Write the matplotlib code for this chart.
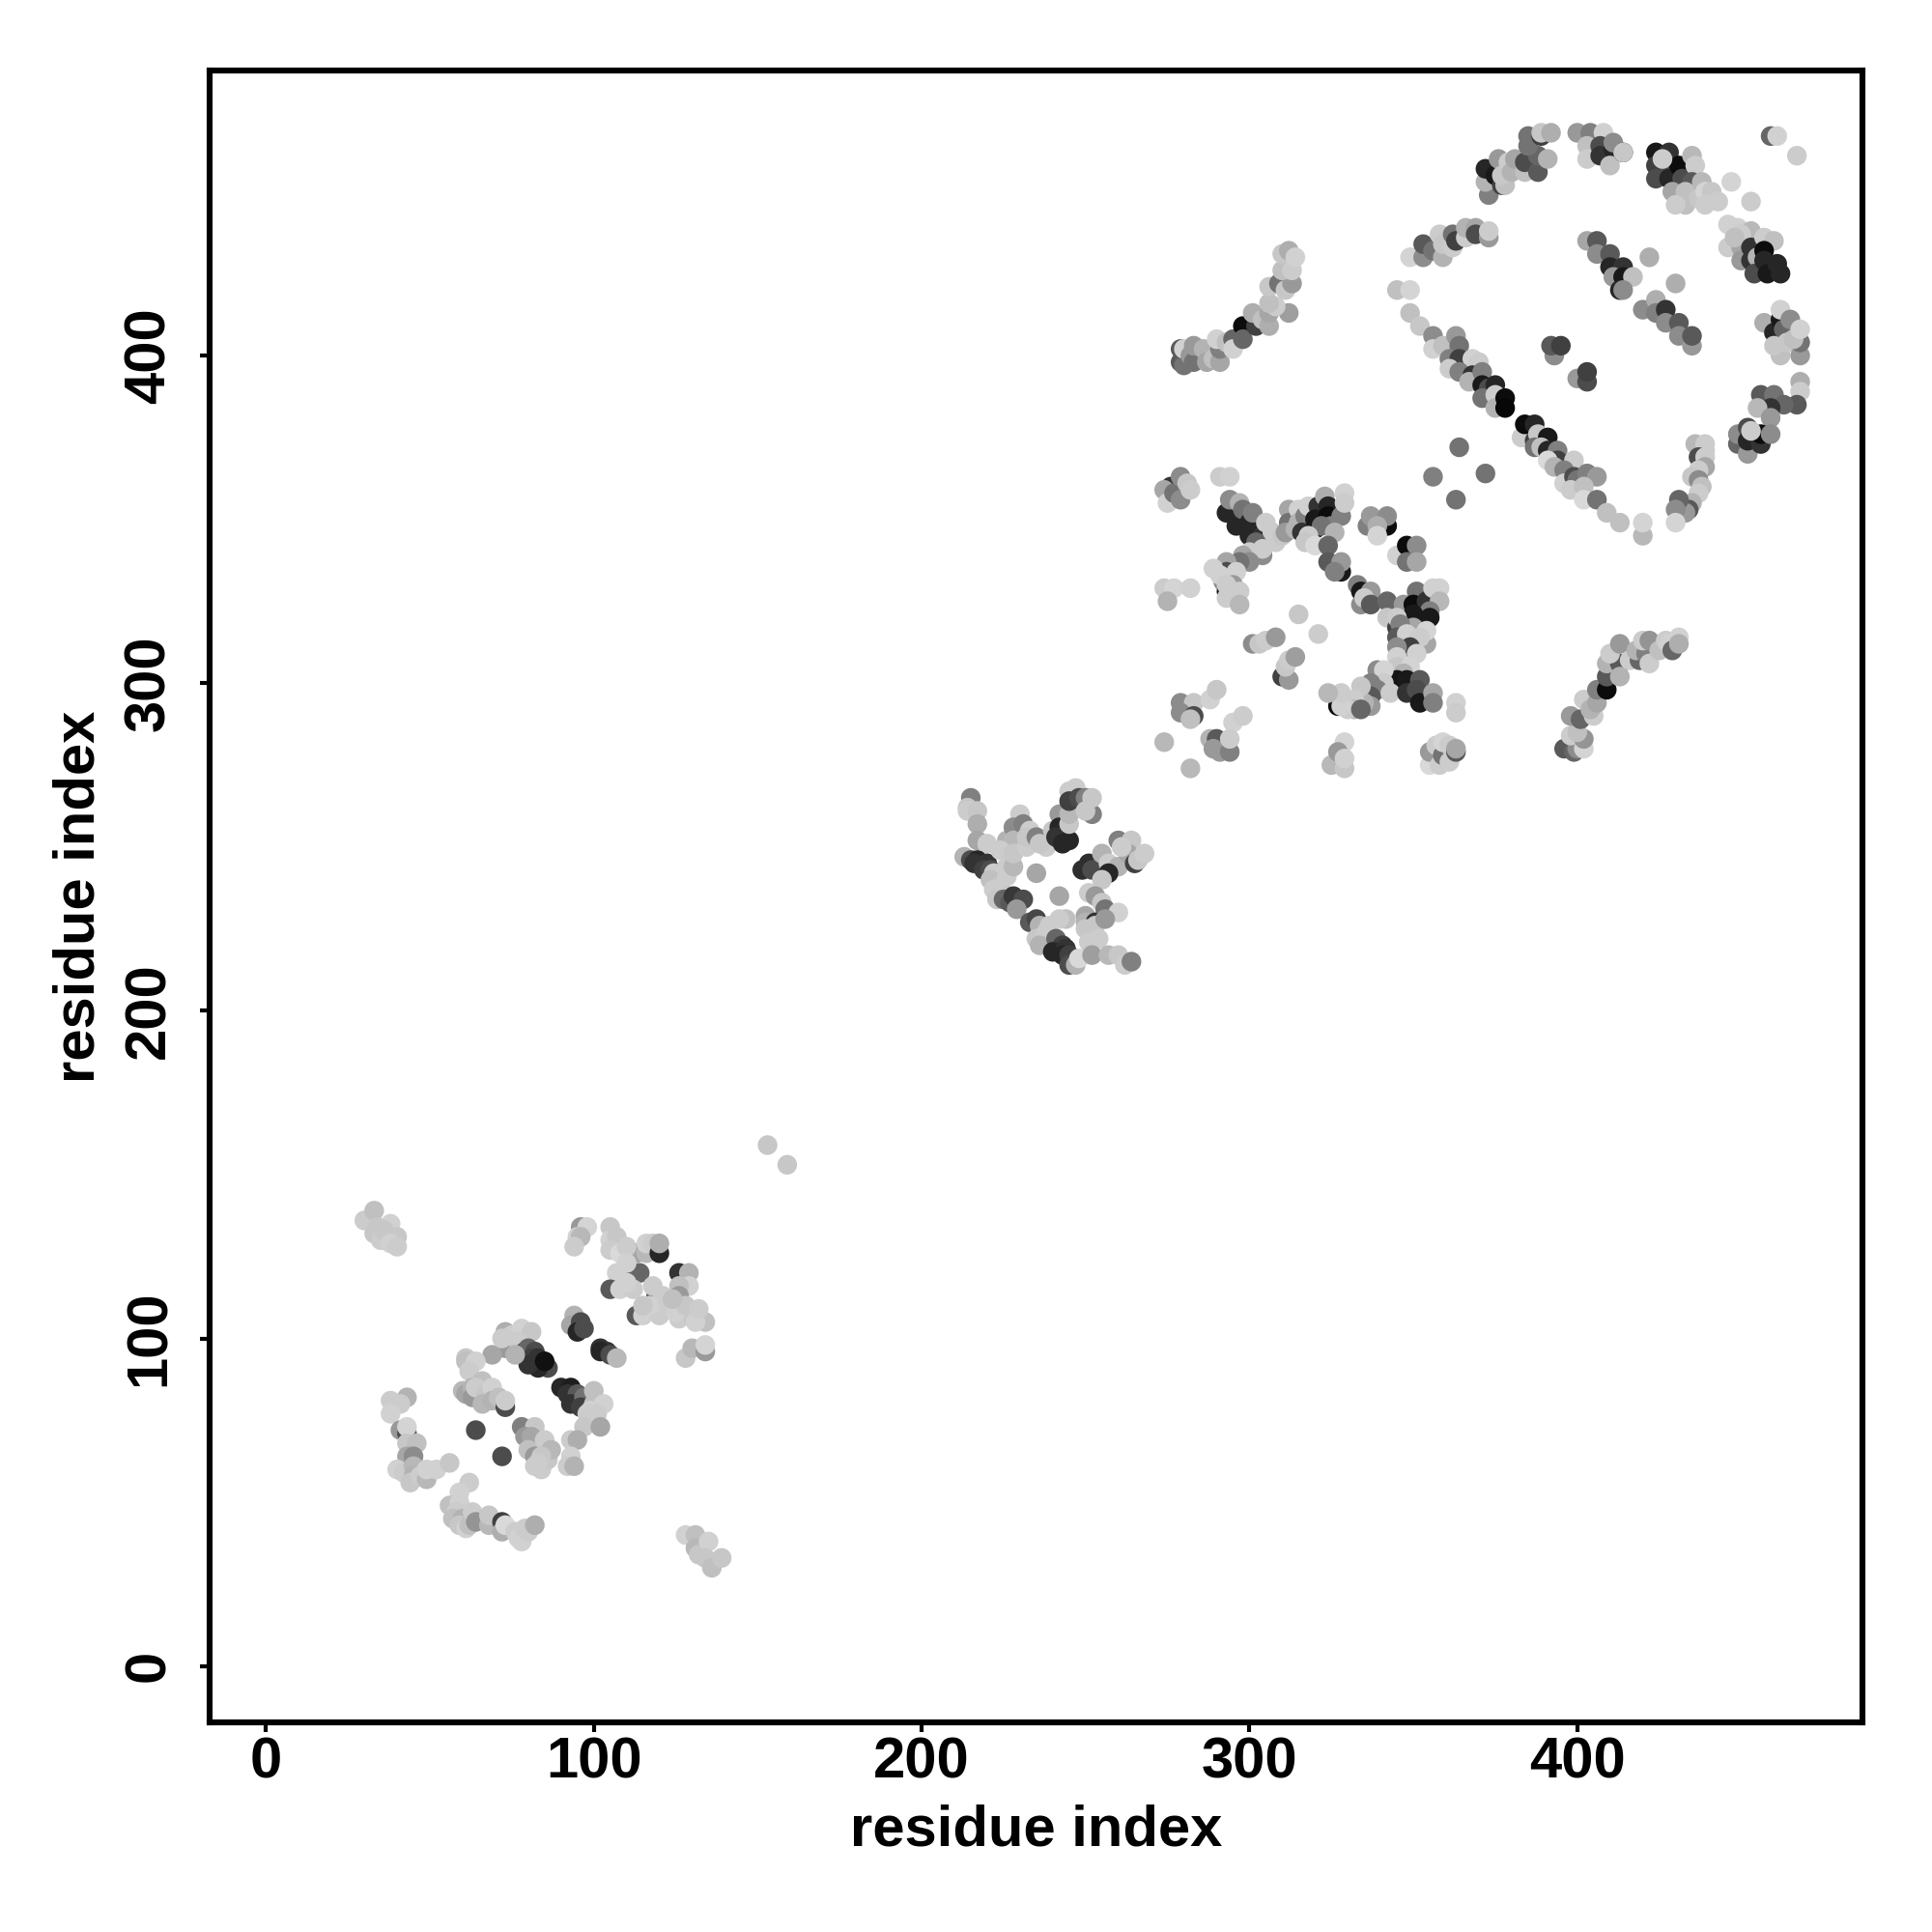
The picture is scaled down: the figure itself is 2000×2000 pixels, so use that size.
import matplotlib
matplotlib.use("Agg")
import matplotlib.pyplot as plt
import numpy as np

# contacts, per cluster: (residue i, residue j, grey level)
low_helix = [(30,136,.8),(33,139,.75),(34,134,.78),(33,132,.78),(38,135,.82),(35,130,.8),(36,133,.78),(40,131,.78),(38,129,.82),(40,128,.8),
    (96,134,.6),(98,134,.83),(95,131,.82),(96,131,.72),(94,128,.8),
    (153,159,.78),(159,153,.78)]

low_upper = [(105,134,.78),(105,130,.82),(107,131,.78),(105,127,.8),(108,126,.85),(113,126,.65),(116,126,.72),(116,129,.82),(118,129,.8),(120,126,.15),(120,129,.68),
    (112,120,.3),(114,120,.4),(107,120,.82),(126,120,.2),(129,120,.7),(129,116,.82),(126,116,.75),
    (105,115,.35),(108,115,.82),(119,113,.35),(121,113,.8),(126,113,.6),(113,107,.35),(115,107,.82),(120,107,.8),(126,106,.8),(130,107,.78),(134,105,.75),(131,105,.82),(122,110,.8),
    (128,94,.78),(130,97,.72),(134,96,.6),(134,98,.83),
    (110,128,.8),(110,123,.82),(112,115,.8),(118,116,.8),(123,109,.8),(125,108,.82),(128,110,.78),(124,112,.75),(117,110,.82),(132,109,.8),(115,110,.78),(110,117,.82)]

low_diag = [(94,107,.7),(93,104,.65),(96,105,.3),(95,102,.15),(97,103,.3),
    (102,97,.2),(104,96,.2),(102,96,.15),(105,95,.3),(107,94,.72),
    (73,102,.68),(73,97,.6),(69,95,.65),(75,101,.8),(78,103,.82),(81,102,.78),(77,99,.8),
    (79,96,.3),(80,97,.4),(82,96,.3),(81,94,.25),(86,91,.3),(83,91,.15),(80,92,.2),(83,94,.2),(85,93,.07),
    (61,94,.78),(61,93,.75),(64,93,.82),(62,90,.8),(76,95,.7),(72,100,.8),
    (60,84,.72),(61,83,.65),(63,85,.7),(63,82,.6),(66,87,.75),(64,85,.8),(67,83,.78),(66,80,.72),(69,85,.82),(69,81,.7),(71,82,.75),(73,79,.3),(73,81,.8),
    (90,85,.15),(93,85,.12),(92,83,.2),(95,83,.35),(93,80,.2),(97,82,.45),(96,79,.25),(100,84,.75),(100,80,.75),(103,80,.82),(99,78,.82),(101,77,.8),(98,77,.8),(97,73,.78),(102,73,.65),(93,69,.8),(95,69,.68),
    (64,72,.3),(72,64,.3)]

low_lower = [(78,73,.5),(82,73,.78),(79,70,.6),(81,70,.65),(80,66,.75),(85,69,.8),(82,64,.6),(82,61,.8),(84,60,.8),(86,63,.78),(87,66,.72),(84,64,.78),(83,62,.8),(93,64,.82),(92,61,.8),(94,61,.7),
    (38,81,.8),(43,82,.7),(41,80,.8),(38,77,.82),(41,72,.6),(43,71,.3),(43,73,.83),(43,68,.78),(46,68,.75),(43,64,.65),(45,64,.55),(40,60,.82),(42,59,.8),(45,61,.72),(45,58,.7),(44,56,.78),(47,58,.8),(49,57,.72),(49,60,.82),(52,60,.82),(56,62,.78),
    (62,56,.8),(59,53,.82),(56,49,.75),(59,50,.82),(58,47,.8),(57,45,.75),(60,45,.7),(59,43,.78),(61,42,.82),(62,43,.75),(63,47,.8),(64,44,.58),(68,43,.72),(68,46,.78),(72,44,.25),(72,41,.68),(73,43,.85),(76,41,.8),(77,39,.82),(78,38,.82),(79,42,.8),(80,41,.8),(82,43,.68),
    (128,40,.82),(131,40,.75),(131,36,.72),(132,34,.78),(135,38,.82),(134,33,.78),(136,30,.75),(139,33,.78)]

mid_domain = [(215,265,.5),(214,262,.78),(214,261,.8),(217,261,.78),(217,257,.68),(217,252,.65),(220,251,.8),
    (213,247,.7),(215,246,.3),(217,246,.15),(216,245,.2),(220,245,.2),(219,243,.25),(221,243,.3),(222,242,.8),(221,240,.75),(224,238,.78),(222,237,.8),(223,234,.78),(225,234,.4),(227,233,.35),(228,235,.22),(226,244,.8),(226,241,.8),(228,244,.72),
    (230,260,.8),(226,252,.7),(228,256,.55),(229,251,.65),(228,252,.72),(224,249,.8),(228,248,.78),(232,250,.8),(231,257,.5),(233,255,.8),(232,253,.78),(235,253,.5),(238,250,.8),(236,251,.78),
    (235,242,.65),(242,235,.65),(231,234,.3),(229,231,.6),
    (242,260,.6),(240,255,.78),(242,256,.15),(241,253,.2),(243,251,.15),(245,252,.15),(245,257,.78),(245,260,.72),
    (245,267,.8),(247,268,.8),(245,264,.25),(248,265,.3),(250,265,.5),(252,260,.5),(250,261,.78),(252,265,.78),
    (249,243,.18),(251,245,.18),(253,243,.4),(252,243,.3),(255,248,.7),(257,245,.8),(260,244,.7),(257,242,.15),(255,240,.78),(260,252,.5),(264,252,.78),(263,248,.65),(265,245,.25),(261,250,.8),(266,246,.78),(268,248,.8),
    (251,236,.8),(253,235,.6),(255,233,.78),(256,231,.45),(260,230,.82),(250,229,.65),(250,227,.7),(253,227,.2),(253,226,.78),(256,228,.6),(250,225,.78),(254,222,.8),
    (244,228,.75),(242,228,.8),(233,227,.35),(235,228,.28),(236,226,.7),(235,222,.78),(239,226,.8),(238,224,.8),(236,220,.7),(241,222,.4),(243,220,.25),(240,218,.15),(244,219,.2),(243,217,.15),(245,217,.25),(245,214,.3),(247,214,.7),(248,216,.85),(251,221,.8),(252,217,.62),(257,217,.72),(260,217,.78),(262,214,.8),(264,215,.5)]

upper_star = [(276,360,.2),(274,359,.65),(275,355,.82),(277,358,.45),(279,363,.55),(279,356,.55),(281,361,.78),(282,359,.8),
    (291,363,.8),(294,363,.82),
    (293,352,.15),(294,356,.55),(297,355,.7),(296,348,.15),(298,353,.45),(300,349,.15),(301,352,.5),(300,345,.15),(304,345,.2),(305,349,.8),(307,346,.8),(302,343,.4),(300,340,.8),(304,339,.55),(304,341,.8),(298,339,.65),(300,337,.55),(297,337,.45),(293,337,.65),(308,343,.8),
    (291,334,.75),(293,334,.3),(292,331,.55),(291,333,.82),(289,335,.82),(296,334,.82),(295,330,.6),(293,328,.1),(293,330,.8),(293,326,.8),(297,328,.8),(297,324,.72),
    (274,329,.8),(277,329,.83),(282,329,.82),(275,325,.7),
    (315,321,.78),(321,315,.8),
    (301,312,.55),(303,312,.78),(305,313,.8),(308,314,.6),(310,302,.25),(312,301,.6),(311,305,.78),(312,307,.8),(314,308,.62),
    (310,345,.78),(312,353,.65),(312,349,.45),(315,353,.82),(311,346,.6),(314,347,.7),(315,349,.7),(317,351,.5),(316,346,.2),(318,354,.82),(321,354,.2),(323,357,.68),(324,354,.15),(320,350,.1),(320,347,.1),(324,351,.05),(325,348,.5),(322,348,.45),(328,351,.5),(329,358,.82),(329,355,.8),(318,345,.8),(317,343,.78),(320,342,.85),(326,346,.7),(324,342,.4),
    (324,337,.35),(328,334,.1),(328,337,.6),(326,334,.5),
    (336,348,.5),(337,351,.6),(342,348,.05),(342,351,.55),(339,348,.68),(339,345,.83),
    (345,339,.82),(348,342,.05),(351,342,.55),(348,337,.45),(351,337,.65),
    (333,330,.5),(334,328,.1),(337,328,.6),(334,324,.55),(335,326,.8),(337,324,.35)]

upper_star2 = [(342,325,.4),(342,320,.78),(351,328,.45),(347,324,.6),(350,324,.05),(354,325,.2),(356,329,.82),(358,329,.82),(358,325,.72),(355,322,.5),(355,320,.1),(350,321,.1),(345,317,.25),(350,317,.65),(345,320,.8),(346,318,.5),(354,312,.65),(354,316,.83),(345,314,.35),(348,315,.82),(352,314,.8),(349,311,.25),(345,311,.55),(351,309,.82),(345,308,.82),(345,305,.78),(349,305,.83),(347,303,.7),
    (339,304,.55),(345,301,.08),(348,301,.1),(341,304,.83),(341,300,.8),(337,300,.5),(339,298,.5),(343,297,.8),(337,296,.35),(337,293,.6),(335,294,.7),(334,299,.78),(332,295,.8),(332,292,.72),(330,292,.8),(327,293,.05),(328,293,.82),(328,297,.8),(324,297,.72),(334,292,.4),
    (352,301,.35),(348,297,.2),(351,298,.3),(352,294,.1),(356,297,.65),(356,294,.5),
    (363,294,.82),(363,291,.8),
    (279,294,.55),(283,294,.78),(279,291,.55),(283,290,.3),(282,289,.75),(288,295,.82),(290,298,.78),(295,288,.82),(298,290,.8),
    (274,282,.72),(282,274,.72),
    (288,283,.7),(290,283,.35),(289,280,.6),(291,279,.6),(294,279,.5),(294,283,.8),
    (329,282,.83),(325,275,.72),(327,279,.6),(329,274,.78),(329,277,.82),
    (355,275,.85),(355,279,.6),(357,281,.8),(360,277,.82),(358,275,.8),(359,278,.45),(359,282,.83),(361,281,.8),(361,276,.8),(363,279,.35),(363,280,.65)]

arc_left = [(279,398,.35),(280,397,.45),(279,402,.35),(280,402,.82),(282,400,.6),(283,398,.45),(283,403,.6),(286,402,.7),(287,398,.65),(289,399,.75),(291,398,.65),(291,402,.5),(290,405,.82),(293,404,.75),(295,405,.4),(295,402,.82),(298,409,.05),(298,405,.4),(302,409,.25),(301,413,.68),(304,411,.75),(306,409,.68),(306,413,.65),(312,413,.62),(308,415,.8),(306,416,.75),(306,421,.78),(309,422,.45),(311,420,.78),(313,422,.6),(310,426,.75),(313,426,.8),(310,431,.78),(312,432,.68),(314,430,.82)]

arc_lower = [(396,280,.35),(399,279,.4),(400,280,.55),(402,280,.83),(398,284,.8),(402,283,.58),(400,285,.75),(398,290,.6),(401,289,.4),(405,290,.8),(402,295,.8),(404,292,.7),(406,294,.65),(406,298,.5),(409,298,.05),(409,302,.35),(409,306,.7),(413,306,.35),(413,302,.7),(410,309,.8),(413,312,.6),(416,307,.8),(419,307,.4),(418,310,.7),(421,309,.5),(422,306,.8),(420,313,.8),(422,313,.58),(425,310,.75),(427,313,.8),(428,312,.82),(429,310,.4),(431,314,.82),(431,312,.68)]

top_ring = [(373,449,.5),(372,453,.7),(372,457,.15),(375,455,.1),(376,460,.6),(377,452,.25),(378,452,.75),(377,455,.78),(379,459,.8),(380,456,.7),(381,460,.65),(384,456,.75),(384,459,.3),(388,456,.35),(388,461,.4),(391,460,.7),(385,464,.45),(385,467,.45),(389,467,.25),(389,468,.78),(392,468,.68),
    (400,468,.6),(404,468,.5),(403,464,.75),(403,460,.8),(408,468,.82),(407,464,.3),(407,461,.2),(411,463,.15),(411,465,.55),(410,458,.75),(414,462,.1),(414,462,.78),
    (424,462,.1),(424,458,.25),(424,454,.3),(428,462,.2),(428,458,.3),(428,454,.15),(431,458,.05),(432,454,.3),(429,450,.65),(426,460,.8),(435,461,.72),(436,458,.8),(435,453,.35),(438,453,.72),(433,450,.75),(433,446,.75),(430,446,.8),(437,448,.78),(439,450,.83),(441,450,.78),(439,446,.8),(443,447,.8),
    (447,453,.83),(453,447,.8),(467,461,.8),(459,467,.4),(461,467,.82),
    (446,440,.82),(449,439,.82),(446,433,.8),(450,433,.65),(450,429,.6),(453,438,.72),(450,437,.8),(448,436,.75),(453,433,.2),(453,429,.2),(455,430,.7),(457,436,.8),(460,435,.75),(457,432,.05),(454,425,.3),(457,429,.15),(458,425,.1),(461,428,.15),(462,425,.15)]

mid_ring = [(403,435,.65),(406,435,.35),(406,431,.55),(410,431,.35),(410,427,.15),(414,427,.2),(411,424,.6),(414,424,.1),(417,424,.75),(413,420,.15),(414,420,.55),(422,430,.68),(430,422,.68),
    (420,414,.55),(424,417,.68),(424,413,.5),(427,414,.2),(427,410,.55),(431,410,.35),(431,406,.55),(435,403,.6),(435,406,.35),
    (393,400,.55),(392,403,.35),(395,403,.25),(400,393,.6),(403,392,.3),(403,395,.25),
    (457,410,.68),(460,407,.15),(462,411,.1),(462,414,.82),(463,408,.4),(465,411,.55),(462,400,.75),(460,403,.78),(464,404,.78),(468,400,.6),(468,404,.45),(466,405,.75),(468,408,.82),
    (468,392,.68),(468,389,.8),(467,385,.35),(456,388,.35),(460,388,.45),(463,385,.4),(459,384,.2),(455,384,.72),(459,381,.6),
    (449,373,.4),(449,376,.55),(452,370,.6),(452,378,.3),(452,374,.15),(456,373,.2),(456,376,.05),(453,377,.8),(459,376,.55),
    (436,373,.72),(439,373,.8),(439,371,.8),(437,369,.3),(439,369,.8),(439,366,.65),(437,365,.8),(435,363,.78),(437,362,.55),(438,360,.75),(437,358,.8),(435,355,.7),(434,353,.35),(433,352,.6),(431,356,.4),(430,353,.55),(430,349,.83)]

ring_diag = [(345,420,.75),(349,420,.83),(349,413,.75),(352,409,.78),(356,406,.55),(356,402,.82),(359,403,.75),(363,406,.6),(364,403,.45),(361,399,.5),(364,399,.25),(361,396,.8),(368,399,.82),(370,398,.8),(364,395,.5),(368,394,.2),(367,392,.7),(371,395,.5),(371,391,.1),(373,390,.3),(375,391,.15),(371,387,.45),(375,388,.8),(375,384,.7),(378,387,.05),(378,384,.03),
    (349,430,.83),(353,430,.55),(353,434,.35),(356,432,.45),(359,430,.7),(358,437,.8),(359,434,.78),(362,433,.8),(362,437,.45),(363,435,.25),(366,436,.8),(366,439,.7),(369,439,.65),(369,437,.3),(373,436,.6),(373,438,.8),
    (383,375,.8),(384,379,.05),(387,379,.15),(387,374,.25),(388,376,.78),(391,375,.1),(387,372,.45),(389,372,.75),(391,371,.15),(394,371,.5),(394,368,.25),(391,368,.85),(393,366,.7),(399,368,.8),(396,365,.5),(396,361,.82),(399,363,.3),(400,362,.45),(398,359,.8),(403,364,.5),(406,363,.6),(402,360,.75),(402,356,.85),(406,356,.45),(409,352,.75),(413,349,.75),(420,345,.72),(420,349,.83),
    (364,372,.45),(356,363,.5),(372,364,.45),(363,356,.45)]

clusters = [low_helix, low_upper, low_diag, low_lower, mid_domain, upper_star, upper_star2,
            arc_left, arc_lower, top_ring, mid_ring, ring_diag]

ticks = [0, 100, 200, 300, 400]

plt.rcParams["font.family"] = ["Liberation Sans", "DejaVu Sans"]
plt.rcParams["font.weight"] = "bold"

fig = plt.figure(figsize=(20, 20), dpi=100)
ax = fig.add_axes([217 / 2000, 217 / 2000, 1711 / 2000, 1710 / 2000])

for c in clusters:
    pts = np.array(c)
    ax.scatter(pts[:, 0], pts[:, 1], c=pts[:, 2], cmap="gray", vmin=0, vmax=1, s=215, linewidths=0)

ax.set_xlim(-17.2, 487)
ax.set_ylim(-17.2, 487)
ax.set_xticks(ticks)
ax.set_yticks(ticks)
ax.tick_params(length=7, width=3, labelsize=43)
ax.tick_params(axis="x", pad=3.5)
ax.tick_params(axis="y", pad=18)
for t in ax.get_yticklabels():
    t.set_rotation(90)
    t.set_va("center")
for s in ax.spines.values():
    s.set_linewidth(4.4)

ax.set_xlabel("residue index", fontsize=43, fontweight="bold", labelpad=11)
ax.set_ylabel("residue index", fontsize=43, fontweight="bold", labelpad=13)

fig.savefig("out.png", dpi=100, facecolor="white")
